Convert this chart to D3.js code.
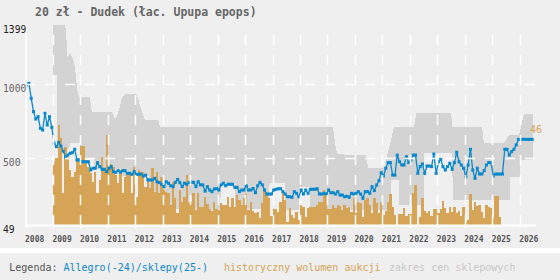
<!DOCTYPE html>
<html>
<head>
<meta charset="utf-8">
<script src="https://cdnjs.cloudflare.com/ajax/libs/d3/7.8.5/d3.min.js"></script>
<style>
body{margin:0;background:#fff;}
svg{display:block;}
text{font-family:"DejaVu Sans Mono",monospace;}
</style>
</head>
<body>
<svg width="560" height="280"></svg>
<script>
var title = "20 zł - Dudek (łac. Upupa epops)";

// średnia cena miesięczna od 2008-01
var priceStart = 2008;
var prices = [
  995,1005,904,814,764,780,702,690,803,724,780,708,
  600,578,607,582,548,506,521,533,537,560,488,488,
  476,476,476,476,420,432,432,470,443,425,425,409,
  432,443,409,405,416,405,416,416,398,398,391,409,
  391,391,394,380,385,353,
  353,353,364,341,335,324,308,341,331,314,308,337,357,335,308,331,324,335,337,337,
  308,341,320,320,278,308,285,274,292,295,285,320,331,314,324,324,324,303,303,274,
  285,285,314,285,285,295,267,314,337,320,285,258,258,258,285,
  290,294,294,274,258,240,240,236,274,263,240,285,258,285,263,290,290,290,294,258,
  258,263,258,285,267,267,258,274,251,251,240,243,236,263,258,263,274,258,229,274,
  274,263,308,281,319,348,402,380,432,470,470,386,386,521,476,
  454,454,510,470,488,521,521,398,443,461,398,447,447,443,528,398,476,492,443,420,
  443,466,425,470,540,476,454,432,375,454,560,420,364,432,393,393,416,454,470,470,
  380,393,393,393,393,560,560,521,544,560,589,627,627,627,627,627,627,627
];

// wolumen aukcji, miesięcznie od 2009-01
var volStart = 2009;
var volumes = [
  64,67,100,87,32,78,68,55,48,53,67,67,79,79,65,58,52,43,53,32,45,68,55,90,57,61,58,50,42,55,
  32,48,51,53,32,58,28,55,50,53,38,47,
  37,57,33,53,32,48,35,33,32,20,43,27,12,35,23,28,50,23,23,32,15,32,18,18,28,21,16,14,23,16,
  15,22,20,20,28,18,27,18,30,25,20,27,31,15,23,14,12,13,7,22,34,32,27,9,16,16,
  13,23,35,25,3,17,10,7,13,5,20,18,8,17,18,18,18,20,23,23,35,30,16,16,20,17,20,19,15,20,
  17,18,13,27,12,23,22,8,25,27,20,12,27,22,12,23,10,14,23,31,18,10,0,11,11,17,
  9,11,11,32,40,0,8,27,14,12,14,9,16,16,12,16,24,17,12,18,13,18,12,14,9,18,3,5,31,15,
  23,19,20,13,7,20,18,17,7,29,29,8
];

// zakres cen sklepowych
var bandHiT = [2009.0,2009.44,2009.48,2009.53,2009.62,2009.74,2009.80,2009.87,2009.92,2009.99,
  2010.35,2010.41,2011.14,2011.20,2011.26,2011.32,2011.44,2011.50,2011.62,2011.99,2012.05,
  2012.35,2012.83,2012.90,2019.20,2019.31,2019.38,2019.75,2020.41,2020.48,2021.06,2021.43,
  2022.16,2022.23,2023.50,2023.56,2024.63,2024.70,2025.43,2025.61,2025.98,2026.16,2026.49];
var bandHi = [1400,1400,1345,1180,1212,1163,1118,984,927,911,
  911,814,814,792,763,780,848,904,933,933,927,
  758,758,713,713,555,530,521,521,432,432,713,
  713,803,803,713,713,600,600,656,656,798,798];
var bandLoT = [2009.0,2009.13,2009.14,2009.6,2009.61,2010.0,2010.01,2010.5,2010.51,2011.5,
  2011.51,2012.5,2012.51,2015.1,2015.11,2015.63,2015.64,2016.88,2016.89,2017.45,
  2017.46,2017.95,2017.96,2018.35,2018.36,2021.3,2021.31,2021.6,2021.61,2022.5,
  2022.51,2023.55,2023.56,2025.65,2025.66,2026.0,2026.01,2026.49];
var bandLo = [1060,1060,560,560,600,600,500,500,430,430,
  380,380,160,160,332,332,160,160,330,330,
  150,150,305,305,150,150,353,353,184,184,
  535,535,220,220,373,373,488,488];

var years = d3.range(2008, 2027);
var yLabels = [49, 500, 1000, 1399];
var lastLabel = "46";

var svg = d3.select("svg");
svg.append("rect").attr("width", 560).attr("height", 248).attr("fill", "#efefef");
svg.append("rect").attr("y", 253).attr("width", 560).attr("height", 27).attr("fill", "#efefef");

var x = d3.scaleLinear().domain([2008, 2026.56]).range([25.5, 535]);
var y = d3.scaleLinear().domain([49, 1399]).range([225, 25]);
var yVol = d3.scaleLinear().domain([0, 200]).range([225, 25]);

svg.append("clipPath").attr("id", "plot")
  .append("rect").attr("x", 25).attr("y", 24).attr("width", 512).attr("height", 202);

var g = svg.append("g").attr("clip-path", "url(#plot)");

// pasmo cen sklepowych
var hiPts = bandHiT.map(function(t, i) { return [x(t), y(bandHi[i])]; });
var loPts = bandLoT.map(function(t, i) { return [x(t), y(bandLo[i])]; }).reverse();
g.append("path")
  .attr("d", d3.line()(hiPts.concat(loPts)) + "Z")
  .attr("fill", "#d3d3d3")
  .attr("shape-rendering", "crispEdges");

// siatka
svg.selectAll(".vgrid")
  .data(years.slice(1))
  .enter()
  .append("line")
  .attr("x1", function(d) { return Math.round(x(d)) + 0.5; })
  .attr("x2", function(d) { return Math.round(x(d)) + 0.5; })
  .attr("y1", 35).attr("y2", 225)
  .attr("stroke", "#fff").attr("stroke-width", 1.5)
  .attr("stroke-dasharray", "10,10");

svg.selectAll(".hgrid")
  .data([500, 1000])
  .enter()
  .append("line")
  .attr("x1", 25).attr("x2", 536)
  .attr("y1", function(d) { return Math.round(y(d)) + 0.5; })
  .attr("y2", function(d) { return Math.round(y(d)) + 0.5; })
  .attr("stroke", "#fff").attr("stroke-width", 1.5)
  .attr("stroke-dasharray", "10,10");

svg.append("line").attr("x1", 26).attr("x2", 26).attr("y1", 25).attr("y2", 226)
  .attr("stroke", "#fff").attr("stroke-width", 1.5);

// oś X
var xAxis = d3.axisBottom(x).tickValues(years).tickFormat(d3.format("d")).tickSize(3).tickPadding(8);
var ax = svg.append("g").attr("transform", "translate(0,225)").call(xAxis);
ax.select(".domain").attr("stroke", "#fff").attr("stroke-width", 2).attr("d", "M25,0.5H536");
ax.selectAll(".tick line").attr("stroke", "#fff").attr("stroke-width", 1.5);
ax.selectAll(".tick text")
  .attr("text-anchor", "start")
  .attr("x", -1)
  .attr("fill", "#555")
  .style("font-size", "8px")
  .style("font-weight", "bold")
  .style("font-family", "'DejaVu Sans Mono', monospace");

// wolumen
function bx0(i) { return Math.round(x(volStart + i / 12)); }
g.selectAll(".bar")
  .data(volumes)
  .enter()
  .append("rect")
  .attr("x", function(d, i) { return bx0(i); })
  .attr("width", function(d, i) { return bx0(i + 1) - bx0(i); })
  .attr("y", function(d) { return Math.round(yVol(d)); })
  .attr("height", function(d) { return Math.round(yVol(0)) - Math.round(yVol(d)); })
  .attr("fill", "#d5a457")
  .attr("shape-rendering", "crispEdges");

// cena
var pts = prices.map(function(v, i) { return [priceStart + (i + 0.5) / 12, v]; });
var line = d3.line()
  .x(function(d) { return x(d[0]); })
  .y(function(d) { return y(d[1]); });
g.append("path")
  .datum(pts)
  .attr("d", line)
  .attr("fill", "none")
  .attr("stroke", "#0a88cc")
  .attr("stroke-width", 1.3);
g.selectAll(".pt")
  .data(pts)
  .enter()
  .append("rect")
  .attr("x", function(d) { return x(d[0]) - 1.5; })
  .attr("y", function(d) { return y(d[1]) - 1.5; })
  .attr("width", 3).attr("height", 3)
  .attr("fill", "#0a88cc");

// etykiety osi Y
svg.selectAll(".ylab")
  .data(yLabels)
  .enter()
  .append("text")
  .attr("x", 3)
  .attr("y", function(d) { return y(d) + 8; })
  .attr("fill", function(d) { return (d == 49 || d == 1399) ? "#222" : "#666"; })
  .style("font-size", "9.7px")
  .text(function(d) { return d; });

svg.append("text")
  .attr("x", 530).attr("y", 133)
  .attr("fill", "#d5a457")
  .style("font-size", "10px")
  .text(lastLabel);

svg.append("text")
  .attr("x", 35).attr("y", 16)
  .attr("fill", "#666")
  .style("font-size", "11.5px")
  .style("font-weight", "bold")
  .text(title);

// legenda
var leg = svg.append("text").attr("x", 9.3).attr("y", 271).style("font-size", "10px");
leg.append("tspan").attr("fill", "#555").text("Legenda: ");
leg.append("tspan").attr("fill", "#0a88cc").text("Allegro(-24)/sklepy(25-)");
svg.append("text").attr("x", 224).attr("y", 271).style("font-size", "10px")
  .attr("fill", "#d5a457").text("historyczny wolumen aukcji");
svg.append("text").attr("x", 389).attr("y", 271).style("font-size", "10px")
  .attr("fill", "#c8c8c8").text("zakres cen sklepowych");
</script>
</body>
</html>
